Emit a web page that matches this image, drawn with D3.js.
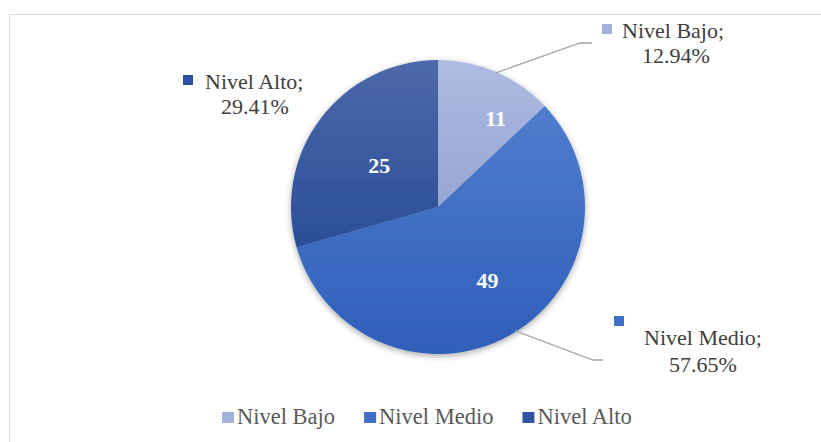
<!DOCTYPE html>
<html>
<head>
<meta charset="utf-8">
<script src="https://cdn.jsdelivr.net/npm/d3@7/dist/d3.min.js"></script>
<style>
  body { margin: 0; background: #fff; }
  svg { display: block; font-family: "Liberation Serif", "Times New Roman", serif; }
</style>
</head>
<body>
<div id="chart"></div>
<script>
// data
var categories = ["Nivel Bajo", "Nivel Medio", "Nivel Alto"];
var counts = [11, 49, 25];
var percents = ["12.94%", "57.65%", "29.41%"];

var W = 821, H = 442;
var cx = 438, cy = 207, R = 147;

// top / bottom colour of each slice gradient
var tops = ["#aebbe2", "#4f7dcd", "#4d68aa"];
var bottoms = ["#96a6d1", "#2f5eb9", "#2a4e98"];
var keyColors = ["#a3b1db", "#3f6fc6", "#2f53a0"];

var svg = d3.select("#chart").append("svg").attr("width", W).attr("height", H);
var defs = svg.append("defs");

defs.append("filter").attr("id", "shadow").attr("x", "-20%").attr("y", "-20%").attr("width", "140%").attr("height", "140%")
   .append("feDropShadow").attr("dx", 0).attr("dy", 2).attr("stdDeviation", 3)
   .attr("flood-color", "#000").attr("flood-opacity", 0.35);

categories.forEach(function(c, i) {
   var g = defs.append("linearGradient").attr("id", "grad" + i)
      .attr("x1", 0).attr("y1", 0).attr("x2", 0).attr("y2", 1);
   g.append("stop").attr("offset", "0%").attr("stop-color", tops[i]);
   g.append("stop").attr("offset", "100%").attr("stop-color", bottoms[i]);
});

// chart border
svg.append("rect").attr("x", 9.5).attr("y", 14.5).attr("width", W).attr("height", H)
   .attr("fill", "none").attr("stroke", "#d9d9d9").attr("stroke-width", 1);

var rows = categories.map(function(c, i) { return { name: c, value: counts[i], pct: percents[i], i: i }; });

var pie = d3.pie().sort(null).value(function(d) { return d.value; });
var arcs = pie(rows);
var arc = d3.arc().innerRadius(0).outerRadius(R);

var g = svg.append("g").attr("transform", "translate(" + cx + "," + cy + ")");
g.append("g").attr("filter", "url(#shadow)").selectAll("path")
   .data(arcs).enter().append("path")
   .attr("d", arc)
   .attr("fill", function(d) { return "url(#grad" + d.data.i + ")"; });

// inside value labels (Excel's placement, radius fraction + angle nudge)
var inside = [{ r: 0.72, da: 0.17 }, { r: 0.6, da: -0.08 }, { r: 0.49, da: -0.03 }];
g.selectAll("text.val").data(arcs).enter().append("text")
   .attr("class", "val")
   .attr("transform", function(d) {
      var p = inside[d.data.i];
      var a = (d.startAngle + d.endAngle) / 2 + p.da;
      return "translate(" + (Math.sin(a) * R * p.r) + "," + (-Math.cos(a) * R * p.r) + ")";
   })
   .attr("text-anchor", "middle").attr("dy", "0.35em")
   .attr("fill", "#fff").attr("font-weight", "bold").attr("font-size", 22)
   .text(function(d) { return d.value; });

// leader lines for the outside labels
var leaders = { 0: [[580, 43], [592, 43]], 1: [[593, 360], [603, 360]] };
arcs.forEach(function(d) {
   var pts = leaders[d.data.i];
   if (!pts) return;
   var a = (d.startAngle + d.endAngle) / 2 - (d.data.i == 1 ? 0.04 : 0);
   var start = [cx + Math.sin(a) * (R - 1), cy - Math.cos(a) * (R - 1)];
   svg.append("path")
      .attr("d", d3.line()([start].concat(pts)))
      .attr("fill", "none").attr("stroke", "#a6a6a6").attr("stroke-width", 1.3);
});

// outside labels: key square, name; and percentage
var outside = [
   { sq: [602, 24], l1: [622, 38], anchor1: "start", l2: [676, 63] },
   { sq: [614, 316], l1: [703, 345], anchor1: "middle", l2: [703, 372] },
   { sq: [183, 75], l1: [205, 89], anchor1: "start", l2: [255, 114] }
];
rows.forEach(function(d) {
   var o = outside[d.i];
   svg.append("rect").attr("x", o.sq[0]).attr("y", o.sq[1]).attr("width", 10).attr("height", 10)
      .attr("fill", keyColors[d.i]);
   svg.append("text").attr("x", o.l1[0]).attr("y", o.l1[1]).attr("text-anchor", o.anchor1)
      .attr("font-size", 22).attr("fill", "#404040").text(d.name + ";");
   svg.append("text").attr("x", o.l2[0]).attr("y", o.l2[1]).attr("text-anchor", "middle")
      .attr("font-size", 22).attr("fill", "#404040").text(d.pct);
});

// legend
var legend = svg.append("g").attr("transform", "translate(222,424)");
var lx = 0;
rows.forEach(function(d) {
   var item = legend.append("g").attr("transform", "translate(" + lx + ",0)");
   item.append("rect").attr("x", 0).attr("y", -12).attr("width", 12).attr("height", 11).attr("fill", keyColors[d.i]);
   var t = item.append("text").attr("x", 15).attr("y", 0).attr("font-size", 22.5).attr("fill", "#595959").text(d.name);
   lx += 15 + t.node().getComputedTextLength() + 29;
});
</script>
</body>
</html>
